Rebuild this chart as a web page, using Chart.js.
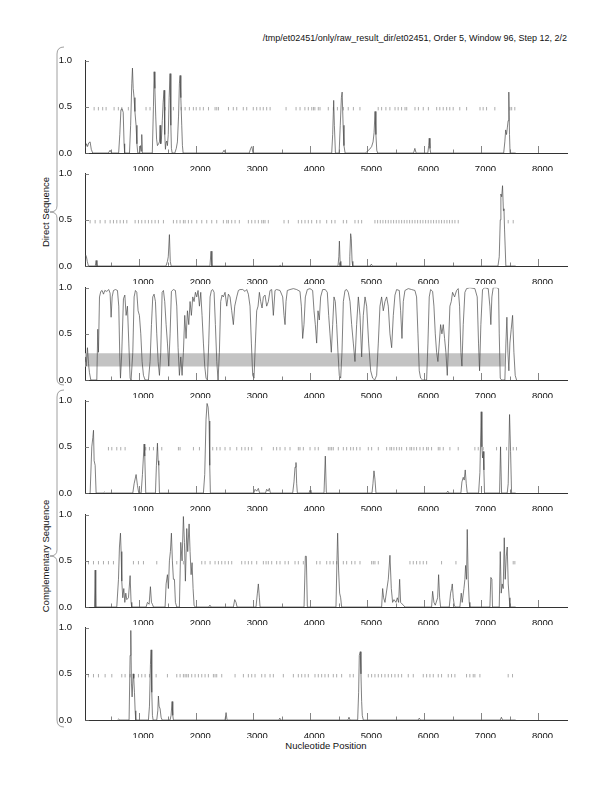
<!DOCTYPE html>
<html>
<head>
<meta charset="utf-8">
<script src="https://cdn.jsdelivr.net/npm/chart.js@4.4.1/dist/chart.umd.min.js"></script>
<style>
  body { margin: 0; background: #fff; width: 612px; height: 792px; position: relative; overflow: hidden;
         font-family: "Liberation Sans", Arial, sans-serif; }
  canvas { position: absolute; left: 40px; }
  .txt { position: absolute; font-size: 9px; color: #111; white-space: nowrap; }
  .side { position: absolute; font-size: 9.5px; color: #111; white-space: nowrap;
          transform: translate(-50%, -50%) rotate(-90deg); }
  svg { position: absolute; left: 0; top: 0; }
</style>
</head>
<body>
<div class="txt" style="right:45px; top:33px;">/tmp/et02451/only/raw_result_dir/et02451, Order 5, Window 96, Step 12, 2/2</div>
<div class="side" style="left:45px; top:212px;">Direct Sequence</div>
<div class="side" style="left:45px; top:556px;">Complementary Sequence</div>
<div class="txt" style="left:85px; width:482px; text-align:center; top:740px; font-size:9.5px;">Nucleotide Position</div>
<svg width="612" height="792">
  <path d="M64 47 Q57 47 57 54 L57 206 Q57 212 50 212 Q57 212 57 218 L57 379 Q57 385 64 385" fill="none" stroke="#888" stroke-width="0.8"/>
  <path d="M64 390 Q57 390 57 397 L57 550 Q57 556 50 556 Q57 556 57 562 L57 720 Q57 727 64 727" fill="none" stroke="#888" stroke-width="0.8"/>
</svg>
<script>
// axis ticks
const xTickValues = [1000, 2000, 3000, 4000, 5000, 6000, 7000, 8000];
const xInnerTicks = [500, 1000, 1500, 2000, 2500, 3000, 3500, 4000, 4500, 5000, 5500, 6000, 6500, 7000, 7500, 8000];
const yTickValues = [0, 0.5, 1];

// panel 1 (direct, frame 1)
const d1Pos = [55, 75, 95, 115, 140, 160, 185, 460, 490, 515, 640, 660, 680, 700, 720, 735, 745, 830, 850, 870, 882, 895, 910, 925, 945, 960, 975, 1010, 1025, 1035, 1045, 1055, 1230, 1250, 1262, 1275, 1290, 1305, 1320, 1340, 1355, 1366, 1378, 1390, 1405, 1420, 1436, 1448, 1460, 1472, 1483, 1495, 1510, 1525, 1541, 1555, 1565, 1578, 1625, 1650, 1670, 1690, 1705, 1717, 1730, 1746, 1758, 1770, 2460, 2488, 2510, 2930, 2955, 2975, 2995, 4375, 4392, 4410, 4422, 4440, 4505, 4525, 4545, 4558, 4575, 4590, 4610, 4970, 5000, 5040, 5075, 5100, 5118, 5135, 5150, 5165, 5180, 5810, 5833, 5855, 6060, 6075, 6085, 6098, 6110, 7390, 7410, 7425, 7440, 7455, 7468, 7480, 7492, 7502, 7600];
const d1Val = [0.05, 0.1, 0.07, 0.11, 0.12, 0.04, 0, 0, 0.03, 0, 0, 0.2, 0.47, 0.48, 0.44, 0.1, 0, 0, 0.3, 0.75, 0.92, 0.7, 0.6, 0.45, 0.3, 0.1, 0, 0, 0.08, 0.02, 0.2, 0, 0, 0.5, 0.88, 0.7, 0.4, 0.15, 0.08, 0.1, 0.12, 0.3, 0.1, 0.15, 0.35, 0.55, 0.68, 0.2, 0.04, 0.12, 0.13, 0.08, 0.2, 0.6, 0.86, 0.3, 0.05, 0, 0, 0.05, 0.12, 0.4, 0.75, 0.84, 0.6, 0.3, 0.08, 0, 0, 0.03, 0, 0, 0.05, 0.07, 0, 0, 0.2, 0.57, 0.3, 0, 0, 0.3, 0.6, 0.66, 0.3, 0.08, 0, 0, 0.02, 0.04, 0.07, 0.12, 0.22, 0.45, 0.2, 0.03, 0, 0, 0.05, 0, 0, 0.08, 0.16, 0.05, 0, 0, 0.12, 0.25, 0.2, 0.28, 0.35, 0.66, 0.2, 0, 0];
const d1Stops = [210, 285, 360, 420, 560, 635, 695, 810, 1120, 1190, 1455, 1600, 1735, 1805, 1880, 1950, 2000, 2065, 2125, 2215, 2330, 2360, 2390, 2565, 2650, 2710, 2825, 2885, 3000, 3060, 3120, 3175, 3235, 3295, 3575, 3750, 3820, 3905, 3965, 4025, 4055, 4080, 4140, 4170, 4315, 4405, 4475, 4580, 4665, 4755, 4870, 5190, 5250, 5325, 5395, 5485, 5540, 5600, 5660, 5690, 5835, 5895, 5980, 6070, 6215, 6270, 6330, 6390, 6445, 6505, 6620, 6740, 6975, 7030, 7090, 7235, 7500, 7530, 7585];

// panel 2 (direct, frame 2)
const d2Pos = [50, 60, 75, 90, 110, 230, 245, 260, 1470, 1495, 1510, 1530, 1545, 1560, 2240, 2260, 2275, 3455, 3470, 3490, 4485, 4500, 4510, 4522, 4535, 4680, 4692, 4707, 4718, 4732, 4745, 5050, 5070, 5090, 7290, 7312, 7330, 7341, 7355, 7370, 7385, 7395, 7405, 7428, 7600];
const d2Val = [0.05, 0.12, 0.1, 0.05, 0, 0, 0.06, 0, 0, 0.05, 0.1, 0.34, 0.05, 0, 0, 0.16, 0, 0, 0.01, 0, 0, 0.1, 0.27, 0.05, 0, 0, 0.1, 0.35, 0.3, 0.05, 0, 0, 0.02, 0, 0, 0.1, 0.5, 0.78, 0.75, 0.87, 0.6, 0.62, 0.4, 0, 0];
const d2Stops = [140, 228, 315, 403, 491, 549, 607, 666, 724, 783, 929, 987, 1045, 1104, 1162, 1221, 1279, 1337, 1425, 1600, 1659, 1717, 1775, 1805, 1863, 1921, 2009, 2097, 2184, 2272, 2359, 2476, 2535, 2564, 2622, 2681, 2756, 2914, 2973, 3031, 3089, 3148, 3177, 3206, 3264, 3539, 3615, 3790, 3849, 3907, 3965, 4024, 4111, 4170, 4287, 4374, 4433, 4579, 4637, 4783, 4841, 4900, 5133, 5180, 5227, 5273, 5320, 5367, 5414, 5460, 5507, 5554, 5601, 5647, 5694, 5741, 5787, 5834, 5881, 5928, 5974, 6021, 6068, 6115, 6161, 6208, 6255, 6301, 6348, 6395, 6441, 6488, 6535, 6593, 7469, 7557];

// panel 3 (direct, frame 3) with band
const d3Pos = [50, 53, 70, 93, 111, 128, 152, 257, 274, 286, 304, 327, 350, 374, 397, 432, 467, 490, 508, 526, 549, 584, 619, 642, 660, 672, 695, 724, 748, 771, 794, 818, 841, 858, 888, 911, 934, 958, 981, 1004, 1028, 1051, 1075, 1104, 1162, 1191, 1215, 1238, 1261, 1285, 1308, 1332, 1355, 1378, 1402, 1425, 1448, 1472, 1495, 1518, 1542, 1565, 1600, 1635, 1659, 1682, 1705, 1729, 1752, 1775, 1799, 1822, 1846, 1869, 1892, 1915, 1939, 1962, 1986, 2009, 2032, 2056, 2079, 2102, 2126, 2149, 2172, 2196, 2219, 2243, 2266, 2289, 2313, 2336, 2360, 2383, 2406, 2429, 2453, 2476, 2505, 2535, 2564, 2593, 2622, 2651, 2675, 2710, 2739, 2768, 2815, 2856, 2885, 2914, 2943, 2967, 2990, 3013, 3037, 3060, 3084, 3107, 3130, 3154, 3177, 3206, 3235, 3264, 3294, 3323, 3352, 3381, 3410, 3469, 3516, 3539, 3557, 3574, 3597, 3644, 3703, 3761, 3819, 3843, 3866, 3889, 3913, 3948, 3995, 4041, 4065, 4088, 4111, 4135, 4158, 4181, 4216, 4263, 4298, 4322, 4345, 4368, 4392, 4415, 4438, 4462, 4485, 4508, 4532, 4555, 4579, 4608, 4637, 4666, 4696, 4725, 4754, 4783, 4812, 4842, 4871, 4900, 4929, 4959, 4988, 5023, 5058, 5093, 5128, 5163, 5192, 5221, 5250, 5279, 5309, 5338, 5367, 5396, 5426, 5455, 5484, 5513, 5560, 5583, 5607, 5630, 5659, 5717, 5776, 5834, 5863, 5887, 5910, 5934, 5969, 6039, 6062, 6085, 6109, 6144, 6167, 6191, 6214, 6237, 6261, 6284, 6307, 6331, 6354, 6377, 6401, 6424, 6447, 6471, 6494, 6529, 6564, 6593, 6617, 6640, 6658, 6681, 6710, 6739, 6797, 6885, 6926, 6949, 6967, 6990, 7019, 7060, 7119, 7148, 7165, 7183, 7206, 7265, 7300, 7312, 7330, 7353, 7411, 7429, 7446, 7464, 7481, 7499, 7522, 7546, 7569, 7592, 7616];
const d3Val = [0.2, 0.25, 0.15, 0.35, 0.18, 0.08, 0, 0, 0.55, 0.3, 0.9, 0.96, 0.97, 0.93, 0.97, 0.96, 0.98, 0.94, 0.68, 0.9, 0.97, 0.98, 0.97, 0.8, 0.25, 0.02, 0.3, 0.88, 0.92, 0.7, 0.8, 0.4, 0.02, 0, 0.3, 0.9, 0.97, 0.95, 0.75, 0.7, 0.5, 0.2, 0.05, 0, 0, 0.2, 0.6, 0.9, 0.93, 0.85, 0.5, 0.2, 0.05, 0.3, 0.95, 0.97, 0.85, 0.6, 0.4, 0.15, 0.5, 0.96, 0.98, 0.97, 0.8, 0.35, 0.05, 0.25, 0.05, 0.3, 0.7, 0.45, 0.75, 0.6, 0.85, 0.7, 0.9, 0.85, 0.95, 0.9, 0.97, 0.8, 0.95, 0.7, 0.4, 0.15, 0.02, 0, 0.4, 0.9, 0.97, 0.98, 0.95, 0.6, 0.2, 0, 0.3, 0.85, 0.92, 0.9, 0.95, 0.8, 0.93, 0.9, 0.75, 0.6, 0.8, 0.9, 0.97, 0.98, 0.98, 0.96, 0.98, 0.93, 0.8, 0.4, 0.05, 0.02, 0.4, 0.75, 0.8, 0.95, 0.85, 0.78, 0.9, 0.92, 0.8, 0.85, 0.97, 0.98, 0.7, 0.97, 0.98, 0.97, 0.9, 0.7, 0.6, 0.85, 0.97, 0.98, 0.99, 0.98, 0.96, 0.8, 0.45, 0.6, 0.9, 0.98, 0.99, 0.97, 0.75, 0.6, 0.4, 0.75, 0.65, 0.9, 0.98, 0.98, 0.95, 0.7, 0.5, 0.3, 0.6, 0.9, 0.85, 0.6, 0.3, 0.05, 0.02, 0.3, 0.85, 0.97, 0.98, 0.95, 0.85, 0.6, 0.4, 0.2, 0.6, 0.9, 0.7, 0.25, 0.7, 0.9, 0.8, 0.4, 0.1, 0.02, 0, 0.05, 0.4, 0.8, 0.9, 0.75, 0.85, 0.9, 0.8, 0.5, 0.35, 0.7, 0.92, 0.98, 0.97, 0.75, 0.45, 0.85, 0.97, 0.99, 0.98, 0.97, 0.9, 0.5, 0.1, 0.02, 0, 0, 0.4, 0.9, 0.98, 0.96, 0.8, 0.5, 0.3, 0.2, 0.4, 0.6, 0.5, 0.6, 0.45, 0.3, 0.05, 0.4, 0.8, 0.85, 0.95, 0.9, 0.97, 0.99, 0.8, 0.3, 0.15, 0.6, 0.95, 0.99, 1, 0.99, 0.9, 0.4, 0.1, 0.6, 0.98, 1, 0.99, 0.8, 0.6, 0.9, 1, 1, 0.99, 0.5, 0.02, 0, 0, 0.4, 0.68, 0.3, 0.1, 0.4, 0.55, 0.7, 0.3, 0.05, 0];
const d3BandEnd = [50, 7411];
const d3BandTop = [0.29, 0.29];
const d3BandBottom = [0.145, 0.145];

// panel 4 (complementary, frame 1)
const c1Pos = [140, 169, 187, 199, 210, 228, 245, 370, 390, 410, 888, 911, 946, 970, 993, 1034, 1057, 1086, 1098, 1115, 1285, 1302, 1320, 1332, 1343, 1355, 2126, 2149, 2172, 2190, 2208, 2225, 2237, 2248, 3010, 3031, 3060, 3089, 3110, 3215, 3235, 3260, 3282, 3300, 3691, 3714, 3732, 3749, 3761, 3773, 3980, 3995, 4010, 4240, 4263, 4281, 5081, 5098, 5116, 5133, 5151, 6390, 6410, 6430, 6640, 6658, 6681, 6698, 6716, 6734, 6751, 6950, 6973, 6996, 7008, 7019, 7031, 7043, 7054, 7318, 7335, 7353, 7452, 7469, 7493, 7511, 7528, 7600];
const c1Val = [0, 0.5, 0.6, 0.68, 0.35, 0.3, 0, 0, 0.01, 0, 0, 0.1, 0.2, 0.08, 0, 0, 0.2, 0.53, 0.4, 0, 0, 0.3, 0.54, 0.35, 0.3, 0, 0, 0.2, 0.8, 0.97, 0.93, 0.78, 0.3, 0, 0, 0.04, 0.02, 0.05, 0, 0, 0.04, 0.02, 0.05, 0, 0, 0.12, 0.28, 0.33, 0.1, 0, 0, 0.03, 0, 0, 0.4, 0, 0, 0.1, 0.24, 0.15, 0, 0, 0.02, 0, 0, 0.12, 0.17, 0.14, 0.25, 0.1, 0, 0, 0.22, 0.88, 0.5, 0.38, 0.45, 0.25, 0, 0, 0.5, 0, 0, 0.1, 0.85, 0.45, 0, 0];
const c1Stops = [461, 520, 607, 677, 753, 1115, 1180, 1250, 1320, 1396, 1688, 1717, 1951, 2056, 2289, 2359, 2418, 2505, 2593, 2710, 2797, 2856, 2914, 2973, 3148, 3352, 3410, 3469, 3557, 3644, 3790, 3819, 3878, 3995, 4082, 4140, 4316, 4345, 4374, 4403, 4491, 4579, 4637, 4707, 4754, 4812, 4871, 5017, 5075, 5192, 5338, 5396, 5425, 5466, 5513, 5560, 5601, 5688, 5747, 5776, 5817, 5863, 5922, 5980, 6039, 6068, 6126, 6243, 6272, 6331, 6447, 6593, 6885, 6944, 7031, 7265, 7335, 7440, 7557, 7615];

// panel 5 (complementary, frame 2)
const c2Pos = [216, 228, 239, 607, 637, 654, 672, 683, 695, 712, 730, 748, 765, 783, 812, 841, 858, 870, 1121, 1145, 1174, 1197, 1215, 1232, 1250, 1454, 1472, 1495, 1512, 1530, 1547, 1565, 1582, 1600, 1618, 1635, 1659, 1705, 1729, 1752, 1775, 1793, 1810, 1834, 1851, 1875, 1892, 1910, 1927, 1945, 1962, 1980, 2220, 2240, 2260, 2651, 2675, 2698, 2716, 3048, 3072, 3089, 3107, 3119, 3890, 3913, 3930, 3948, 4450, 4467, 4479, 4496, 4514, 4532, 4549, 5250, 5268, 5285, 5309, 5367, 5396, 5420, 5443, 5467, 5502, 5525, 5548, 5566, 5583, 5630, 5659, 6126, 6144, 6167, 6191, 6232, 6249, 6267, 6284, 6436, 6459, 6477, 6489, 6506, 6524, 6541, 6622, 6646, 6663, 6693, 6710, 6722, 6739, 6751, 6768, 6786, 6797, 7148, 7165, 7183, 7194, 7312, 7330, 7347, 7364, 7382, 7400, 7417, 7435, 7452, 7470, 7487, 7499, 7600];
const c2Val = [0, 0.4, 0, 0, 0.3, 0.65, 0.8, 0.6, 0.28, 0.1, 0.2, 0.05, 0.15, 0.08, 0.1, 0.34, 0.05, 0, 0, 0.05, 0.03, 0.22, 0.05, 0.03, 0, 0, 0.25, 0.35, 0.2, 0.5, 0.6, 0.8, 0.5, 0.3, 0.3, 0.05, 0, 0, 0.7, 0.5, 0.98, 0.7, 0.28, 0.85, 0.6, 0.9, 0.6, 0.35, 0.48, 0.2, 0.02, 0, 0, 0.02, 0, 0, 0.08, 0.05, 0, 0, 0.15, 0.25, 0.1, 0, 0, 0.55, 0.55, 0, 0, 0.5, 0.8, 0.4, 0.15, 0.1, 0, 0, 0.2, 0.1, 0.05, 0.3, 0.56, 0.2, 0.05, 0.08, 0.05, 0.1, 0.05, 0.3, 0.05, 0.02, 0, 0, 0.17, 0.05, 0.02, 0.1, 0.35, 0.1, 0, 0, 0.15, 0.2, 0.25, 0.1, 0.02, 0, 0, 0.15, 0.05, 0.2, 0.3, 0.45, 0.3, 0.84, 0.3, 0.05, 0, 0, 0.32, 0.3, 0, 0, 0.6, 0.15, 0.25, 0.2, 0.75, 0.3, 0.55, 0.65, 0.25, 0.1, 0, 0];
const c2Stops = [111, 199, 286, 374, 461, 549, 899, 987, 1075, 1308, 1659, 1775, 2097, 2155, 2243, 2330, 2389, 2447, 2505, 2564, 2622, 2797, 2856, 2914, 2973, 3060, 3177, 3224, 3264, 3323, 3410, 3469, 3557, 3615, 3732, 3790, 3878, 4111, 4170, 4287, 4345, 4403, 4462, 4579, 4637, 4725, 4783, 4871, 5075, 5104, 5133, 5192, 5747, 5805, 5863, 5922, 5980, 6039, 6301, 6553, 7557, 7586];

// panel 6 (complementary, frame 3)
const c3Pos = [620, 640, 660, 823, 841, 853, 864, 876, 894, 905, 917, 929, 940, 1162, 1180, 1197, 1209, 1221, 1232, 1244, 1308, 1326, 1337, 1349, 1367, 1384, 1402, 1542, 1559, 1577, 1589, 1600, 2505, 2523, 2540, 3450, 3465, 3480, 4660, 4678, 4695, 4830, 4847, 4859, 4876, 4888, 4900, 4911, 4929, 5890, 5910, 5930, 7330, 7350, 7370, 7600];
const c3Val = [0, 0.01, 0, 0, 0.7, 0.97, 0.4, 0.25, 0.5, 0.45, 0.3, 0.1, 0, 0, 0.15, 0.6, 0.76, 0.3, 0.05, 0, 0, 0.1, 0.26, 0.15, 0.12, 0.03, 0, 0, 0.05, 0.2, 0.05, 0, 0, 0.08, 0, 0, 0.02, 0, 0, 0.03, 0, 0, 0.3, 0.7, 0.74, 0.5, 0.2, 0.05, 0, 0, 0.02, 0, 0, 0.03, 0, 0];
const c3Stops = [111, 199, 286, 403, 520, 695, 753, 841, 911, 987, 1045, 1104, 1180, 1297, 1495, 1659, 1717, 1775, 1805, 1834, 1863, 1921, 1980, 2038, 2097, 2155, 2213, 2301, 2330, 2359, 2447, 2681, 2827, 2914, 2973, 3031, 3148, 3206, 3294, 3352, 3527, 3703, 3790, 3849, 3907, 3965, 4082, 4140, 4199, 4257, 4316, 4403, 4462, 4549, 4695, 4754, 5017, 5075, 5133, 5192, 5250, 5309, 5367, 5425, 5484, 5542, 5601, 5717, 5805, 5980, 6039, 6097, 6156, 6243, 6301, 6418, 6476, 6535, 6739, 6797, 6856, 6885, 6973, 7469, 7545];

const panelTops = [56, 169, 283, 396, 510, 623];
const panelHeight = 97;

const innerTicks = {
    id: 'innerTicks',
    afterDraw(chart) {
        const ctx = chart.ctx;
        const x = chart.scales.x, y = chart.scales.y;
        ctx.save();
        ctx.strokeStyle = '#666';
        ctx.lineWidth = 0.8;
        ctx.beginPath();
        xInnerTicks.forEach(v => {
            const px = Math.round(x.getPixelForValue(v)) + 0.5;
            const len = v % 1000 === 0 ? 7 : 3.5;
            ctx.moveTo(px, y.bottom);
            ctx.lineTo(px, y.bottom - len);
        });
        yTickValues.forEach(v => {
            const py = Math.round(y.getPixelForValue(v)) + 0.5;
            ctx.moveTo(x.left, py);
            ctx.lineTo(x.left + 4, py);
        });
        ctx.stroke();
        ctx.restore();
    }
};

function makePanel(idx, pos, val, stops, band) {
    const canvas = document.createElement('canvas');
    canvas.width = 535;
    canvas.height = panelHeight + 24;
    canvas.style.top = (panelTops[idx] - 6) + 'px';
    document.body.appendChild(canvas);

    const datasets = [{
        data: pos.map((p, i) => ({x: p, y: val[i]})),
        borderColor: '#4a4a4a',
        borderWidth: 0.7,
        pointRadius: 0,
        tension: 0,
        order: 0
    }, {
        data: stops.map(p => ({x: p, y: 0.48})),
        showLine: false,
        pointStyle: 'line',
        pointRotation: 90,
        pointRadius: 1.7,
        pointBorderColor: '#999',
        pointBorderWidth: 0.8,
        order: 1
    }];
    if (band) {
        datasets.push({
            data: band.x.map((p, i) => ({x: p, y: band.top[i]})),
            borderColor: 'rgba(0,0,0,0)',
            backgroundColor: '#c3c3c3',
            pointRadius: 0,
            fill: '+1',
            order: 2
        }, {
            data: band.x.map((p, i) => ({x: p, y: band.bottom[i]})),
            borderColor: 'rgba(0,0,0,0)',
            pointRadius: 0,
            fill: false,
            order: 3
        });
    }

    const tickFont = {family: '"Liberation Sans", Arial, sans-serif', size: 9.5};
    new Chart(canvas, {
        type: 'line',
        data: {datasets: datasets},
        options: {
            responsive: false,
            animation: false,
            events: [],
            layout: {padding: {top: 6, right: 8, left: 0, bottom: 0}},
            plugins: {legend: {display: false}, tooltip: {enabled: false}},
            scales: {
                x: {
                    type: 'linear',
                    min: 50,
                    max: 8500,
                    afterBuildTicks: s => { s.ticks = xTickValues.map(v => ({value: v})); },
                    afterFit: s => { s.height = 18; },
                    grid: {display: false},
                    border: {color: '#333', width: 1},
                    ticks: {padding: 3, labelOffset: 4, color: '#111', font: tickFont, maxRotation: 0, autoSkip: false,
                            callback: v => String(v)}
                },
                y: {
                    min: 0,
                    max: 1,
                    afterBuildTicks: s => { s.ticks = yTickValues.map(v => ({value: v})); },
                    afterFit: s => { s.width = 45; },
                    grid: {display: false},
                    border: {color: '#333', width: 1},
                    ticks: {padding: 5, color: '#111', font: tickFont, callback: v => v.toFixed(1)}
                }
            }
        },
        plugins: [innerTicks]
    });
}

makePanel(0, d1Pos, d1Val, d1Stops);
makePanel(1, d2Pos, d2Val, d2Stops);
makePanel(2, d3Pos, d3Val, [], {x: d3BandEnd, top: d3BandTop, bottom: d3BandBottom});
makePanel(3, c1Pos, c1Val, c1Stops);
makePanel(4, c2Pos, c2Val, c2Stops);
makePanel(5, c3Pos, c3Val, c3Stops);
</script>
</body>
</html>
